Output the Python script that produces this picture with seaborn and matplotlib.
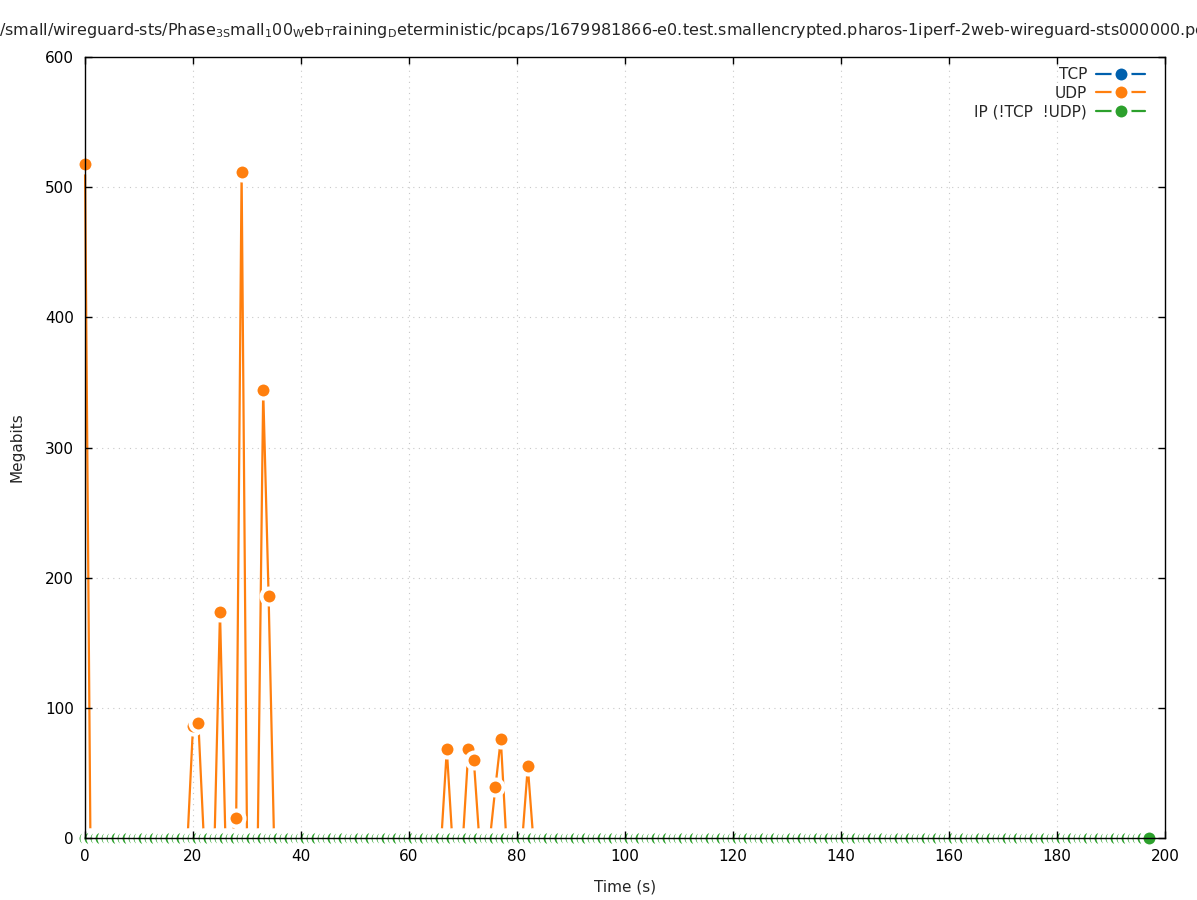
import matplotlib
matplotlib.use("Agg")
import matplotlib.pyplot as plt
from matplotlib.lines import Line2D
import numpy as np
import pandas as pd
import seaborn as sns

# one sample per second
time_s = np.arange(0, 198)
udp_peak_time = [0, 20, 21, 25, 28, 29, 33, 34, 67, 71, 72, 76, 77, 82]
udp_peak_mbit = [518, 86, 88, 174, 15, 512, 344, 186, 68, 68, 60, 39, 76, 55]

tcp_mbit = np.zeros(len(time_s))
ip_mbit = np.zeros(len(time_s))
udp_mbit = np.zeros(len(time_s))
udp_mbit[udp_peak_time] = udp_peak_mbit

series = ["TCP", "UDP", "IP (!TCP  !UDP)"]
colors = ["#0060ad", "#ff7f0e", "#2ca02c"]
x_ticks = list(range(0, 201, 20))
y_ticks = list(range(0, 601, 100))

title = (r"/small/wireguard-sts/Phase$_{\mathregular{3S}}$mall$_{\mathregular{1}}$00"
         r"$_{\mathregular{W}}$eb$_{\mathregular{T}}$raining$_{\mathregular{D}}$eterministic"
         r"/pcaps/1679981866-e0.test.smallencrypted.pharos-1iperf-2web-wireguard-sts000000.pcap")

df = pd.DataFrame({
    "time": np.tile(time_s, 3),
    "mbit": np.concatenate([tcp_mbit, udp_mbit, ip_mbit]),
    "proto": np.repeat(series, len(time_s)),
})

sns.set_theme(style="ticks")
plt.rcParams["font.family"] = ["DejaVu Sans"]
plt.rcParams["mathtext.fontset"] = "dejavusans"

fig = plt.figure(figsize=(11.97, 9), dpi=100)
ax = fig.add_axes([85 / 1197, 62 / 900, 1080 / 1197, 781 / 900])
ax.set_axisbelow(False)

for v in x_ticks[1:-1]:
    ax.axvline(v, ls=(0, (1, 4)), color="#c8c8c8", lw=0.8, zorder=0.5)
for v in y_ticks[1:-1]:
    ax.axhline(v, ls=(0, (1, 4)), color="#c8c8c8", lw=0.8, zorder=0.5)

# gnuplot-like linespoints: every sample gets a dot with a white halo
dot = dict(marker="o", ms=11.5, mec="white", mew=2.9)
for i, (name, color) in enumerate(zip(series, colors)):
    sub = df[df.proto == name]
    sns.lineplot(data=sub, x="time", y="mbit", color=color, lw=1.6, ax=ax,
                 mfc=color, zorder=1.0 + i * 0.3, clip_on=False, legend=False, **dot)

ax.set_xlim(0, 200)
ax.set_ylim(0, 600)
ax.set_xticks(x_ticks)
ax.set_yticks(y_ticks)
ax.tick_params(direction="in", length=5, width=1, colors="black", labelsize=11,
               top=True, right=True, pad=8)
for s in ax.spines.values():
    s.set_visible(True)
    s.set_color("black")
    s.set_linewidth(1)
ax.set_xlabel("Time (s)", fontsize=11)
ax.set_ylabel("Megabits", fontsize=11)
ax.xaxis.set_label_coords(0.5, -42 / 781)
ax.yaxis.set_label_coords(-60 / 1080, 0.5)

handles = [Line2D([], [], color=c, lw=1.6, mfc=c, **dot) for c in colors]
ax.legend(handles, series, loc="upper right", bbox_to_anchor=(1 - 20 / 1080, 1 - 10 / 781),
          frameon=False, markerfirst=False, handlelength=3.2, handletextpad=0.6,
          labelspacing=0.25, borderpad=0, borderaxespad=0, fontsize=11)

fig.text(-0.001, 1 - 30 / 900, title, ha="left", va="center", fontsize=11.5)

fig.savefig("out.png", dpi=100)
